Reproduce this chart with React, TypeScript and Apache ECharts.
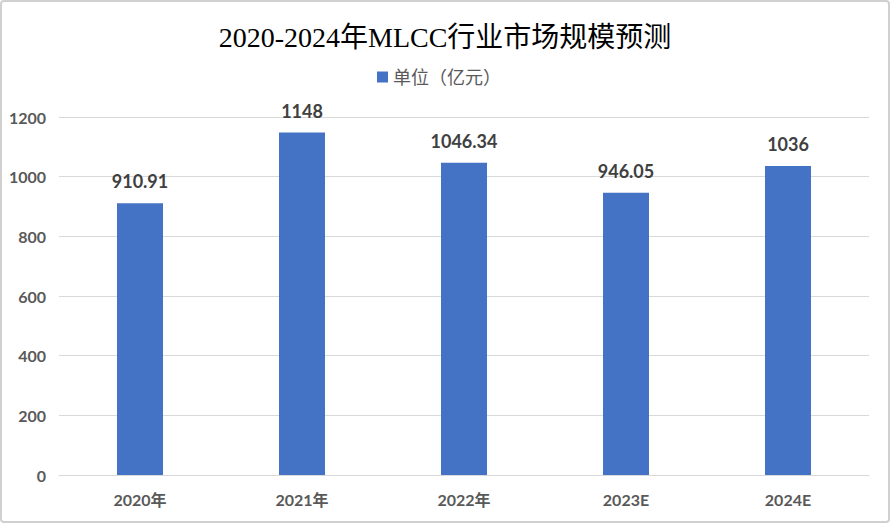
import React, { useEffect, useRef } from "react";
import * as echarts from "echarts";

const categories = ["2020年", "2021年", "2022年", "2023E", "2024E"];
const values = [910.91, 1148, 1046.34, 946.05, 1036];
const seriesName = "单位（亿元）";
const titleText = "2020-2024年MLCC行业市场规模预测";

export default function App() {
  const ref = useRef<HTMLDivElement>(null);
  useEffect(() => {
    const chart = echarts.init(ref.current!, null, { renderer: "svg" });
    const font = "Lato, 'Noto Sans CJK SC', sans-serif";
    chart.setOption({
      animation: false,
      backgroundColor: "#ffffff",
      title: {
        text: titleText,
        left: "center",
        top: 18,
        textStyle: {
          fontFamily: "'Liberation Serif', 'Noto Sans CJK SC', serif",
          fontSize: 28,
          fontWeight: "normal",
          color: "#000000",
        },
      },
      legend: {
        data: [seriesName],
        top: 63,
        left: 372,
        icon: "rect",
        itemWidth: 11,
        itemHeight: 11,
        itemGap: 6,
        textStyle: { fontFamily: font, fontSize: 18, color: "#595959" },
      },
      graphic: [
        {
          type: "rect",
          shape: { x: 1, y: 1, width: 888, height: 521, r: 3 },
          style: { fill: "none", stroke: "#d0d0d0", lineWidth: 2 },
          silent: true,
        },
      ],
      grid: { left: 59, right: 21, top: 117, bottom: 49, containLabel: false },
      xAxis: {
        type: "category",
        data: categories,
        axisLine: { lineStyle: { color: "#d9d9d9", width: 1 } },
        axisTick: { show: false },
        axisLabel: {
          fontFamily: font,
          fontSize: 16,
          fontWeight: "bold",
          color: "#595959",
          margin: 16,
        },
      },
      yAxis: {
        type: "value",
        min: 0,
        max: 1200,
        interval: 200,
        axisLine: { show: false },
        axisTick: { show: false },
        splitLine: { lineStyle: { color: "#d9d9d9", width: 1 } },
        axisLabel: {
          fontFamily: font,
          fontSize: 16,
          fontWeight: "bold",
          color: "#595959",
          margin: 13,
          formatter: (v: number) => String(v),
        },
      },
      series: [
        {
          name: seriesName,
          type: "bar",
          data: values,
          barWidth: 46,
          itemStyle: { color: "#4472C4" },
          label: {
            show: true,
            position: "top",
            distance: 13,
            fontFamily: font,
            fontSize: 18,
            fontWeight: "bold",
            color: "#404040",
          },
        },
      ],
    });
    return () => chart.dispose();
  }, []);
  return (
    <div
      ref={ref}
      style={{ position: "fixed", left: 0, top: 0, width: 890, height: 524 }}
    />
  );
}
